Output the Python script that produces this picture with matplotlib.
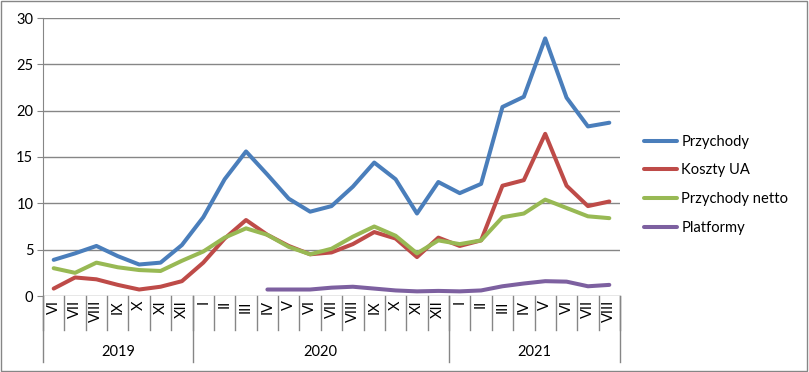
import matplotlib.pyplot as plt
import numpy as np

months_2019 = ["VI", "VII", "VIII", "IX", "X", "XI", "XII"]
months_2020 = ["I", "II", "III", "IV", "V", "VI", "VII", "VIII", "IX", "X", "XI", "XII"]
months_2021 = ["I", "II", "III", "IV", "V", "VI", "VII", "VIII"]
years = ["2019", "2020", "2021"]

przychody = [3.9, 4.6, 5.4, 4.3, 3.4, 3.6, 5.5,
             8.5, 12.6, 15.6, 13.1, 10.5, 9.1, 9.7, 11.8, 14.4, 12.6, 8.9, 12.3,
             11.1, 12.1, 20.4, 21.5, 27.8, 21.4, 18.3, 18.7]
koszty_ua = [0.8, 2.0, 1.8, 1.2, 0.7, 1.0, 1.6,
             3.6, 6.2, 8.2, 6.6, 5.4, 4.5, 4.7, 5.6, 6.9, 6.2, 4.2, 6.3,
             5.4, 6.0, 11.9, 12.5, 17.5, 11.9, 9.7, 10.2]
przychody_netto = [3.0, 2.5, 3.6, 3.1, 2.8, 2.7, 3.8,
                   4.8, 6.3, 7.3, 6.6, 5.3, 4.5, 5.1, 6.4, 7.5, 6.5, 4.6, 6.0,
                   5.6, 6.0, 8.5, 8.9, 10.4, 9.5, 8.6, 8.4]
# Platformy starts in IV 2020
platformy = [None] * 10 + [0.7, 0.7, 0.7, 0.9, 1.0, 0.8, 0.6, 0.5, 0.55,
                           0.5, 0.6, 1.05, 1.35, 1.6, 1.55, 1.05, 1.2]

plt.rcParams['font.family'] = ['Lato', 'DejaVu Sans']

labels = months_2019 + months_2020 + months_2021
x = np.arange(len(labels))
grey = "#868686"

fig = plt.figure(figsize=(8.09, 3.72), dpi=100)
ax = fig.add_axes([43 / 809, 1 - 296 / 372, (620 - 43) / 809, 278 / 372])
fig.patches.append(plt.Rectangle((0.001, 0.002), 0.997, 0.995, transform=fig.transFigure,
                                 fill=False, edgecolor=grey, linewidth=1))

series = [(przychody, "Przychody", "#4A7EBB"),
          (koszty_ua, "Koszty UA", "#BE4B48"),
          (przychody_netto, "Przychody netto", "#98B954"),
          (platformy, "Platformy", "#7D60A0")]
for vals, name, col in series:
    v = np.array([np.nan if a is None else a for a in vals], dtype=float)
    ax.plot(x, v, color=col, lw=2.9, label=name, solid_capstyle="round",
            solid_joinstyle="round")

ax.set_xlim(-0.5, len(labels) - 0.5)
ax.set_ylim(0, 30)
ax.set_yticks(range(0, 31, 5))
ax.yaxis.grid(True, color=grey, lw=1)
ax.set_axisbelow(True)
for s in ["top", "right", "bottom"]:
    ax.spines[s].set_visible(False)
ax.spines["left"].set_color(grey)
ax.tick_params(axis="y", length=4, color=grey, labelsize=10.5, pad=3)
ax.set_xticks([])

# category axis drawn by hand
tr = ax.get_xaxis_transform()
for i, lab in enumerate(labels):
    ax.text(i, -0.015, lab, rotation=90, ha="center", va="top", fontsize=10.5,
            transform=tr)
for b in np.arange(-0.5, len(labels), 1.0):
    ax.plot([b, b], [0, -0.122], color=grey, lw=1, transform=tr, clip_on=False)
bounds = [-0.5, len(months_2019) - 0.5, len(months_2019) + len(months_2020) - 0.5,
          len(labels) - 0.5]
for b in bounds:
    ax.plot([b, b], [0, -0.237], color=grey, lw=1, transform=tr, clip_on=False)
for k, yr in enumerate(years):
    ax.text((bounds[k] + bounds[k + 1]) / 2, -0.2, yr, ha="center", va="center",
            fontsize=10.5, transform=tr)

ax.legend(loc="center left", bbox_to_anchor=(1.018, 0.4), frameon=False,
          fontsize=10.6, handlelength=2.3, handletextpad=0.25, labelspacing=1.0)

fig.savefig("out.png", dpi=100)
